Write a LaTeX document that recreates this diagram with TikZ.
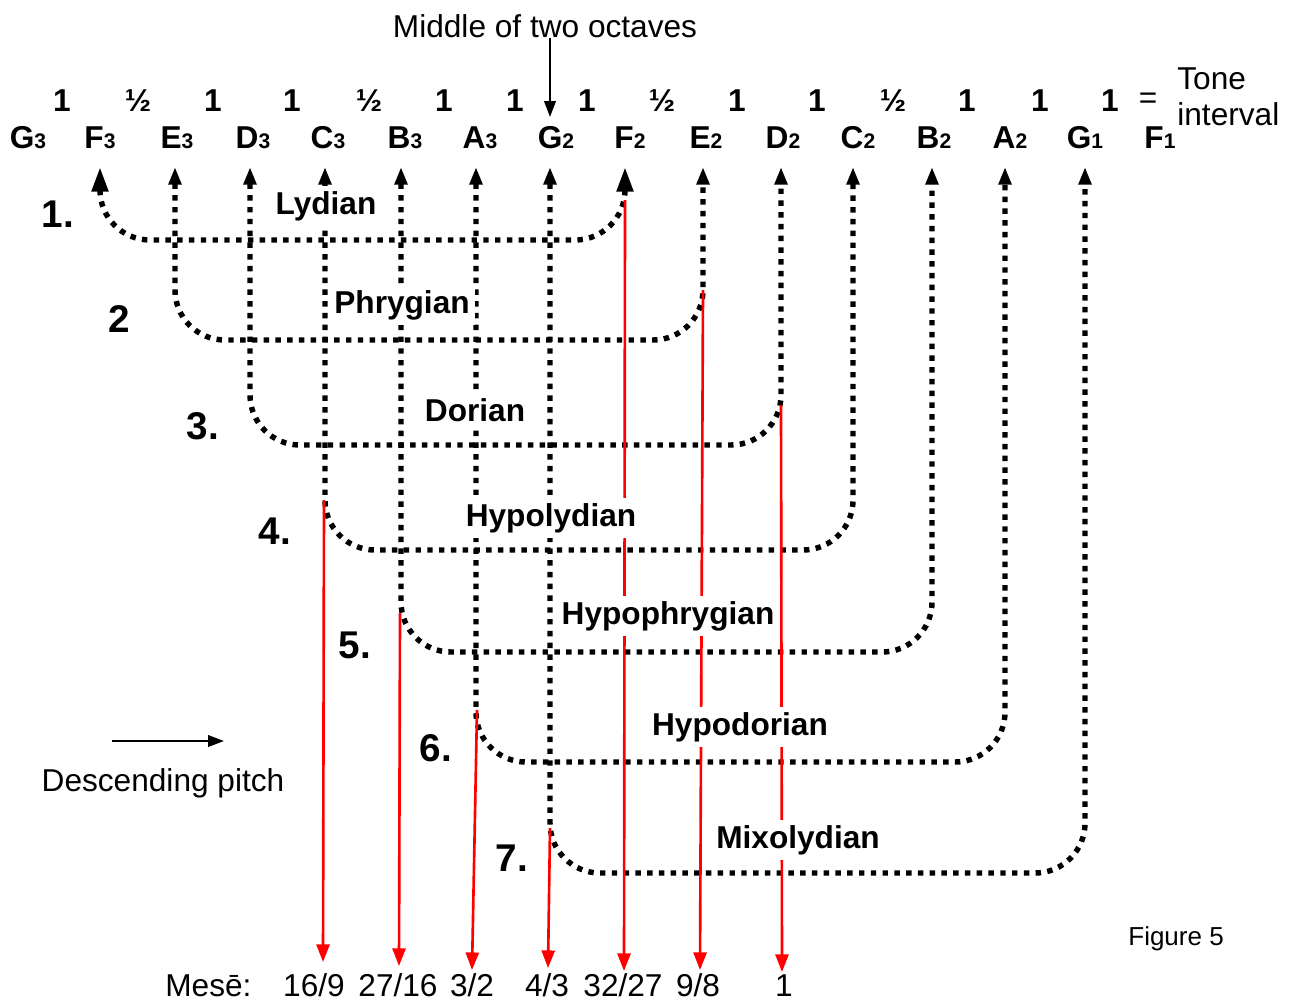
\documentclass[tikz,border=0pt]{standalone}
\usepackage{fontspec}
\setmainfont{Liberation Sans}
\usetikzlibrary{arrows.meta}

% a note letter with its octave digit set small on the same baseline
\newcommand\pitchname[2]{#1{\fontsize{12}{12}\selectfont #2}}

\tikzset{
  big/.style={font=\fontsize{18}{20}\selectfont},
  bigbold/.style={font=\fontsize{18}{20}\selectfont\bfseries},
  numbold/.style={font=\fontsize{22}{24}\selectfont\bfseries},
  notelabel/.style={bigbold, anchor=base, inner sep=0pt},
  interval/.style={bigbold, anchor=base, inner sep=0pt},
  modename/.style={bigbold, fill=white, inner sep=3pt},
  modenum/.style={numbold, inner sep=0pt},
  meseval/.style={big, anchor=base, inner sep=0pt},
  modepath/.style={line width=3.1pt, line cap=butt, dash pattern=on 3.1pt off 3.6pt,
    rounded corners=1cm, {Triangle[width=7pt,length=10pt]}-{Triangle[width=7pt,length=10pt]}},
  firstpath/.style={line width=3.1pt, line cap=butt, dash pattern=on 3.1pt off 3.6pt,
    rounded corners=1cm, {Triangle[width=9pt,length=14pt]}-{Triangle[width=9pt,length=14pt]}},
  meseline/.style={red, line width=1.5pt, -{Triangle[width=7.4pt,length=10pt]}},
  plainarrow/.style={black, line width=1.2pt, -{Triangle[width=6.5pt,length=9pt]}},
}

\begin{document}
\begin{tikzpicture}[x=0.02cm,y=-0.02cm]
\useasboundingbox (0,0) rectangle (1297,1001);

% heading and its pointer to the middle note
\node[big, anchor=base, inner sep=0pt] (mid) at (545,37) {Middle of two octaves};
\coordinate (midtip) at (550,117);
\draw[plainarrow] (mid.south -| midtip) -- (midtip);

% tone intervals between successive notes
\foreach \t/\x [count=\i] in {1/62,\textonehalf/138,1/213,1/292,\textonehalf/369,1/444,1/515,1/587,
    \textonehalf/662,1/737,1/817,\textonehalf/893,1/967,1/1040,1/1110}
  \node[interval] (iv\i) at (\x,111) {\t};
\node[big, anchor=base, inner sep=0pt] (eq) at (1148,108) {=};
\node[big, anchor=base west, inner sep=0pt] (tone) at (1177,89) {Tone};
\node[big, anchor=base west, inner sep=0pt] (intv) at (1177,125) {interval};

% the notes of the two octaves
\foreach \l/\d/\x in {G/3/28,F/3/100,E/3/177,D/3/253,C/3/328,B/3/405,A/3/480,G/2/556,
    F/2/630,E/2/706,D/2/783,C/2/858,B/2/934,A/2/1010,G/1/1085,F/1/1160}
  \node[notelabel] (n\l\d) at (\x,148) {\pitchname{\l}{\d}};

% arrow tips of the columns under the notes
\foreach \n/\x in {F3/100,E3/175,D3/250,C3/325,B3/401,A3/476,G2/550,
    F2/625,E2/703,D2/781,C2/853,B2/932,A2/1005,G1/1085}
  \coordinate (c\n) at (\x,167);

% the seven octave species
\draw[firstpath] (cF3) -- (100,240) -- (625,240) -- (cF2);
\draw[modepath] (cE3) -- (175,340) -- (703,340) -- (cE2);
\draw[modepath] (cD3) -- (250,445) -- (781,445) -- (cD2);
\draw[modepath] (cC3) -- (325,550) -- (853,550) -- (cC2);
\draw[modepath] (cB3) -- (401,652) -- (932,652) -- (cB2);
\draw[modepath] (cA3) -- (476,762) -- (1005,762) -- (cA2);
\draw[modepath] (cG2) -- (550,873) -- (1085,873) -- (cG1);

% mese of each species
\node[big, anchor=base west, inner sep=0pt] (meselbl) at (165,996) {Mes\=e:};
\node[meseval] (m1) at (314,996) {16/9};
\node[meseval] (m2) at (398,996) {27/16};
\node[meseval] (m3) at (472,996) {3/2};
\node[meseval] (m4) at (547,996) {4/3};
\node[meseval] (m5) at (623,996) {32/27};
\node[meseval] (m6) at (698,996) {9/8};
\node[meseval] (m7) at (784,996) {1};

\coordinate (s1) at (625,200); \coordinate (e1) at (624,971);
\coordinate (s2) at (703,290); \coordinate (e2) at (700,970);
\coordinate (s3) at (781,405); \coordinate (e3) at (782,972);
\coordinate (s4) at (324,500); \coordinate (e4) at (323,962);
\coordinate (s5) at (400,613); \coordinate (e5) at (399,966);
\coordinate (s6) at (477,710); \coordinate (e6) at (472,970);
\coordinate (s7) at (550,828); \coordinate (e7) at (548,968);
\foreach \k in {1,...,7} \draw[meseline] (s\k) -- (e\k);

% names and numbers of the species
\node[modename] (lyd) at (326,206) {Lydian};
\node[modename] (phr) at (402,305) {Phrygian};
\node[modename] (dor) at (475,410) {Dorian};
\node[modename] (hlyd) at (551,518) {Hypolydian};
\node[modename] (hphr) at (668,616) {Hypophrygian};
\node[modename] (hdor) at (740,727) {Hypodorian};
\node[modename] (mix) at (798,840) {Mixolydian};

\node[modenum] (k1) at (58,214) {1.};
\node[modenum] (k2) at (119,319) {2};
\node[modenum] (k3) at (203,426) {3.};
\node[modenum] (k4) at (275,531) {4.};
\node[modenum] (k5) at (355,645) {5.};
\node[modenum] (k6) at (436,748) {6.};
\node[modenum] (k7) at (512,858) {7.};

% direction key
\node[big, anchor=base, inner sep=0pt] (desc) at (163,791) {Descending pitch};
\coordinate (da) at (112,741);
\coordinate (db) at (224,741);
\draw[plainarrow] (da) -- (db);

\node[font=\fontsize{14.8}{16}\selectfont, anchor=base west, inner sep=0pt] (fig) at (1128,945) {Figure 5};
\end{tikzpicture}
\end{document}
